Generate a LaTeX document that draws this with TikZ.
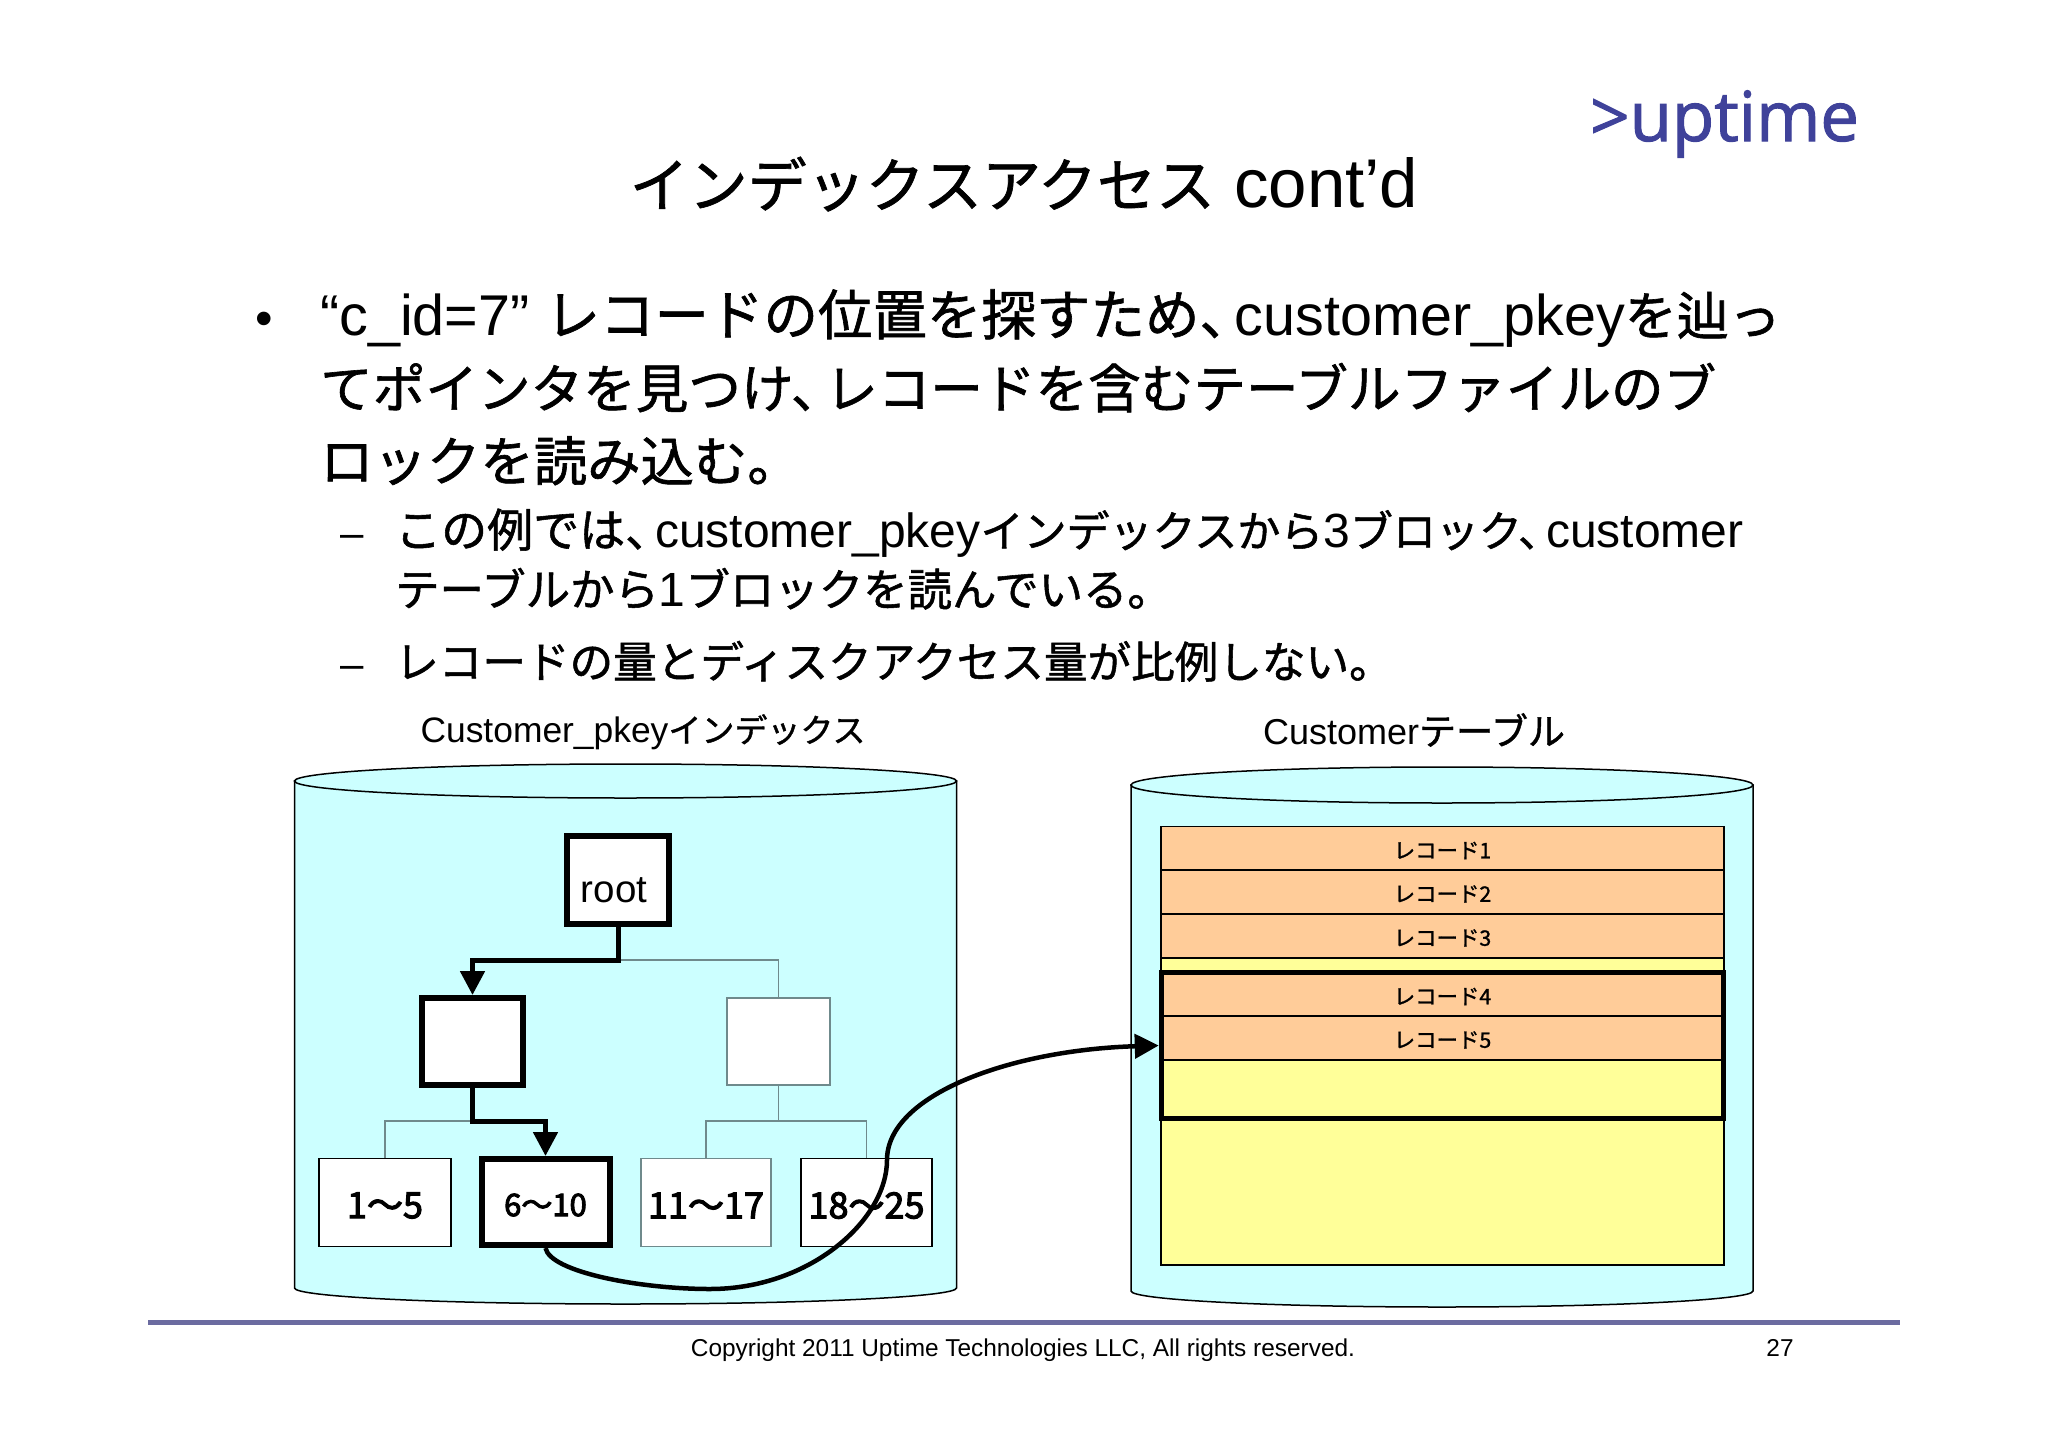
\documentclass[tikz,border=0pt]{standalone}
\usepackage{fontspec}
\setmainfont{Liberation Sans}
\newfontfamily\jp[FakeBold=1.2]{Noto Sans CJK JP}
\newfontfamily\jpb[FakeBold=3]{Noto Sans CJK JP}
\newfontfamily\logofont[FakeBold=1.5]{Open Sans}
\usetikzlibrary{arrows.meta}

\newcommand{\fsz}[1]{\fontsize{#1}{#1}\selectfont}
\newcommand{\jpt}[2]{{\fsz{#1}\jp #2}}
\newcommand{\lowered}[2]{\raisebox{-#1}[\height][\depth]{#2}}

\definecolor{drumcyan}{HTML}{CCFFFF}
\definecolor{recorange}{HTML}{FFCC99}
\definecolor{fileyellow}{HTML}{FFFF99}
\definecolor{rulepurple}{HTML}{6B6BA0}
\definecolor{logoblue}{HTML}{3F429A}
\definecolor{treegray}{HTML}{6F8A8C}

\tikzset{
  textline/.style={anchor=base west, inner sep=0pt},
  plainbox/.style={draw=black, line width=1.5pt, fill=white, inner sep=0pt, font=\jpb\fsz{36}},
  hotbox/.style={plainbox, line width=6pt},
  fadebox/.style={plainbox, draw=treegray, line width=1.2pt},
  recbox/.style={draw=black, line width=1.5pt, fill=recorange, inner sep=0pt,
    minimum width=563pt, minimum height=44pt, font=\jp\fsz{21.4}},
  treeline/.style={draw=treegray, line width=1.2pt},
  hotline/.style={draw=black, line width=5pt, -{Triangle[length=24pt,width=24pt]}}
}

\begin{document}
\begin{tikzpicture}[x=1pt, y=-1pt]
  \useasboundingbox[fill=white] (0,0) rectangle (2048,1448);

  % Logo and title
  \node[anchor=base west, inner sep=0pt, text=logoblue, font=\logofont\fsz{69}] (logo) at (1590,141) {>uptime};
  \node[inner sep=0pt, anchor=base, font=\fsz{69}] (title) at (1024,207) {\jpt{59}{インデックスアクセス} cont’d};

  % Bullet text
  \node[textline, font=\fsz{50}] (bullet) at (255,335) {•};
  \node[textline, font=\fsz{57.5}] (lineA) at (320,335) {“c\_id=7” \jpt{54.5}{レコードの位置を探すため、\hspace{-.35em}}customer\_pkey\jpt{52}{を辿っ}};
  \node[textline, font=\jp\fsz{52.6}] (lineB) at (320,408) {てポインタを見つけ、\hspace{-.35em}レコードを含むテーブルファイルのブ};
  \node[textline, font=\jp\fsz{53.4}] (lineC) at (320,481) {ロックを読み込む。};

  \node[textline, font=\fsz{42}] (dashA) at (340,547) {–};
  \node[textline, font=\fsz{48}] (subA) at (395,547) {\jpt{46}{この例では、\hspace{-.35em}}customer\_pkey\jpt{43}{インデックスから}3\jpt{43}{ブロック、\hspace{-.35em}}customer};
  \node[textline, font=\fsz{48}] (subB) at (395,606) {\jpt{44.4}{テーブルから}1\jpt{44.4}{ブロックを読んでいる。}};
  \node[textline, font=\fsz{42}] (dashB) at (340,678) {–};
  \node[textline, font=\jp\fsz{43.6}] (subC) at (395,678) {レコードの量とディスクアクセス量が比例しない。};

  % Drum labels
  \node[inner sep=0pt, font=\fsz{35.4}] (idxlabel) at (643,732) {Customer\_pkey\jpt{33}{インデックス}};
  \node[inner sep=0pt, font=\fsz{36}] (tbllabel) at (1414,730) {Customer\jpt{37}{テーブル}};

  % Two drums
  \foreach \cx/\crad/\ctop/\cbot/\ctrad/\cbrad in {625.5/331/781/1288/17/16, 1442/311/785/1291/18/16}{
    \draw[fill=drumcyan, line width=1.5pt]
      (\cx-\crad,\ctop) -- (\cx-\crad,\cbot)
      arc[start angle=180, end angle=360, x radius=\crad pt, y radius=\cbrad pt]
      -- (\cx+\crad,\ctop) -- cycle;
    \draw[fill=drumcyan, line width=1.5pt] (\cx,\ctop) ellipse[x radius=\crad pt, y radius=\ctrad pt];
  }

  % Index tree
  \node[hotbox, minimum width=102pt, minimum height=88pt] (root) at (618,880) {};
  \node[inner sep=0pt, anchor=base, font=\fsz{38.5}] (roottext) at (614,902) {root};
  \node[hotbox, minimum width=101pt, minimum height=87pt] (midL) at (472.5,1041.5) {};
  \node[fadebox, minimum width=103pt, minimum height=87pt] (midR) at (778.5,1041.5) {};
  \node[plainbox, minimum width=132pt, minimum height=88pt] (leafA) at (385,1202.5) {\lowered{3pt}{1〜5}};
  \node[hotbox, minimum width=128pt, minimum height=86pt, font=\jpb\fsz{31}] (leafB) at (545.5,1202) {\lowered{3pt}{6〜10}};
  \node[fadebox, minimum width=130pt, minimum height=88pt] (leafC) at (706,1202.5) {\lowered{3pt}{11〜17}};
  \node[plainbox, minimum width=131pt, minimum height=88pt] (leafD) at (866.5,1202.5) {\lowered{3pt}{18〜25}};

  \coordinate (rootj) at (618,960);
  \coordinate (midLj) at (472.5,1121);
  \coordinate (midRj) at (778.5,1121);

  \draw[treeline] (rootj) -| (midR.north);
  \draw[treeline] (midR.south) -- (midRj);
  \draw[treeline] (leafC.north) |- (midRj) -| (leafD.north);
  \draw[treeline] (leafA.north) |- (midLj);
  \draw[hotline] (root.south) -- (rootj) -| (midL.north);
  \draw[hotline] (midL.south) -- (midLj) -| (leafB.north);

  % Table file
  \node[draw=black, line width=1.5pt, fill=fileyellow, inner sep=0pt, minimum width=563pt, minimum height=438pt] (tfile) at (1442.5,1046) {};
  \foreach \recno/\recy in {1/848.5, 2/892, 3/936, 4/994.5, 5/1038}{
    \node[recbox] (rec\recno) at (1442.5,\recy) {\lowered{2pt}{レコード\recno}};
  }
  \node[draw=black, line width=5.5pt, inner sep=0pt, minimum width=562pt, minimum height=146pt] (block) at (1442.5,1045.5) {};

  % Pointer to table block
  \draw[draw=black, line width=4.5pt, -{Triangle[length=24pt,width=24pt]}] (leafB.south)
    .. controls (550,1272) and (640,1289) .. (710,1289)
    .. controls (810,1289) and (887,1220) .. (887,1160)
    .. controls (887,1095) and (1010,1050) .. (block.west);

  % Footer
  \coordinate (ruleL) at (148,1322);
  \coordinate (ruleR) at (1900,1322);
  \draw[rulepurple, line width=5pt] (ruleL) -- (ruleR);
  \node[inner sep=0pt, anchor=base, font=\fsz{24.4}] (copyright) at (1023,1356) {Copyright 2011 Uptime Technologies LLC, All rights reserved.};
  \node[inner sep=0pt, anchor=base, font=\fsz{24.4}] (pageno) at (1780,1356) {27};
\end{tikzpicture}
\end{document}
